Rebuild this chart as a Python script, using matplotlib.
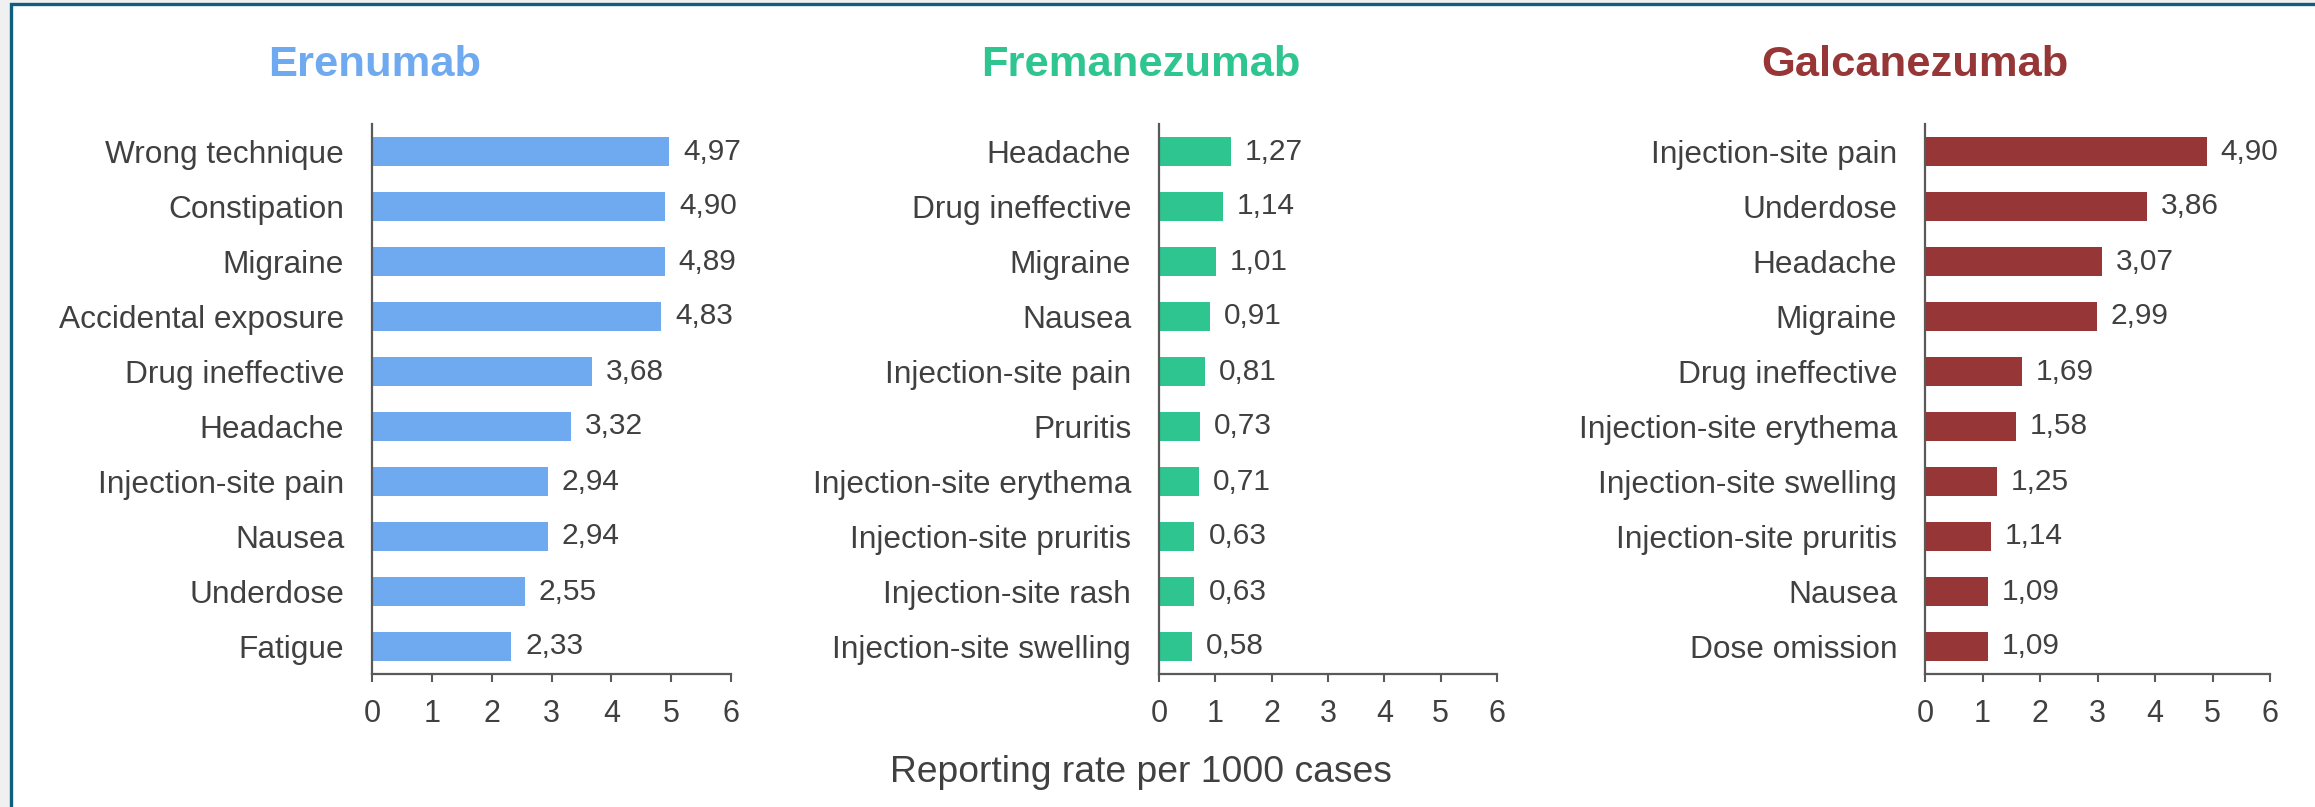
import matplotlib
matplotlib.use("Agg")
import matplotlib.pyplot as plt
from matplotlib.patches import Rectangle

plt.rcParams['font.family'] = ['Liberation Sans', 'DejaVu Sans']

drugs = ["Erenumab", "Fremanezumab", "Galcanezumab"]
colors = ["#6faaf0", "#2ec590", "#963636"]

erenumab_events = ["Wrong technique", "Constipation", "Migraine", "Accidental exposure",
                   "Drug ineffective", "Headache", "Injection-site pain", "Nausea",
                   "Underdose", "Fatigue"]
erenumab_rates = [4.97, 4.90, 4.89, 4.83, 3.68, 3.32, 2.94, 2.94, 2.55, 2.33]

fremanezumab_events = ["Headache", "Drug ineffective", "Migraine", "Nausea",
                       "Injection-site pain", "Pruritis", "Injection-site erythema",
                       "Injection-site pruritis", "Injection-site rash",
                       "Injection-site swelling"]
fremanezumab_rates = [1.27, 1.14, 1.01, 0.91, 0.81, 0.73, 0.71, 0.63, 0.63, 0.58]

galcanezumab_events = ["Injection-site pain", "Underdose", "Headache", "Migraine",
                       "Drug ineffective", "Injection-site erythema",
                       "Injection-site swelling", "Injection-site pruritis",
                       "Nausea", "Dose omission"]
galcanezumab_rates = [4.90, 3.86, 3.07, 2.99, 1.69, 1.58, 1.25, 1.14, 1.09, 1.09]

xticks = [0, 1, 2, 3, 4, 5, 6]
xlabel = "Reporting rate per 1000 cases"

W, H = 2315, 807
fig = plt.figure(figsize=(W / 100, H / 100), dpi=100)
fig.patch.set_facecolor("#f0f0f0")

# framed white panel
fig.patches.append(Rectangle((10.5 / W, -0.1), 1.2, 1 - 4.0 / H + 0.1,
                             transform=fig.transFigure, facecolor="white",
                             edgecolor="#0d5e80", linewidth=2.4, zorder=-10))

text_color = "#404040"
axis_color = "#595959"

panels = [
    (erenumab_events, erenumab_rates, 372, 731, 375),
    (fremanezumab_events, fremanezumab_rates, 1159, 1497, 1141),
    (galcanezumab_events, galcanezumab_rates, 1925, 2270, 1915),
]
bottom_px, top_px = 674, 124

for (events, rates, x0, x1, tx), name, col in zip(panels, drugs, colors):
    ax = fig.add_axes([x0 / W, 1 - bottom_px / H, (x1 - x0) / W, (bottom_px - top_px) / H])
    ax.set_facecolor("none")
    y = list(range(len(events)))
    ax.barh(y, rates, height=0.52, color=col, zorder=2)
    ax.set_ylim(len(events) - 0.5, -0.5)
    ax.set_xlim(0, 6)
    ax.set_yticks(y)
    ax.set_yticklabels(events, fontsize=22.8, color=text_color)
    ax.set_xticks(xticks)
    ax.set_xticklabels([str(t) for t in xticks], fontsize=22, color=text_color)
    ax.tick_params(axis="y", length=0, pad=20)
    ax.tick_params(axis="x", length=6, width=1.5, color=axis_color, pad=12, direction="out")
    for s in ["top", "right"]:
        ax.spines[s].set_visible(False)
    for s in ["left", "bottom"]:
        ax.spines[s].set_color(axis_color)
        ax.spines[s].set_linewidth(1.6)
    for yi, v in zip(y, rates):
        ax.annotate(f"{v:.2f}".replace(".", ","), xy=(v, yi), xytext=(10, 0),
                    textcoords="offset points", va="center", ha="left",
                    fontsize=21.5, color=text_color)
    fig.text(tx / W, 1 - 65 / H, name, ha="center", va="center",
             fontsize=31.3, fontweight="bold", color=col)

fig.text(1141 / W, 1 - 773 / H, xlabel, ha="center", va="center",
         fontsize=26.8, color=text_color)

fig.savefig("out.png", dpi=100, facecolor=fig.get_facecolor())
